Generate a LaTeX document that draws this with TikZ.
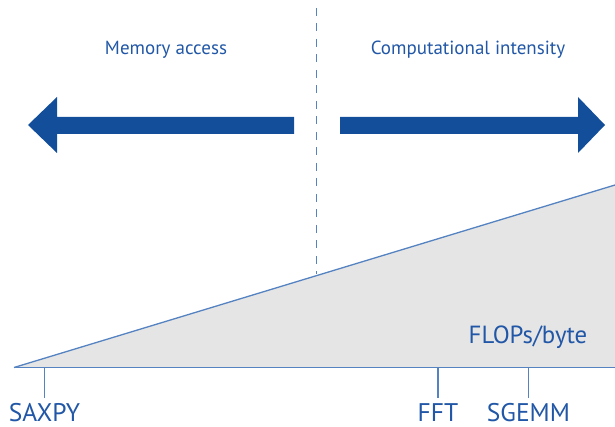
\documentclass[tikz,border=0pt]{standalone}
\usepackage{fontspec}
\setmainfont{PT Sans}
\definecolor{arrowblue}{HTML}{134E9B}
\definecolor{textblue}{HTML}{2157A6}
\definecolor{lineblue}{HTML}{5583C2}
\definecolor{fillgray}{HTML}{E5E5E5}
\begin{document}
\begin{tikzpicture}[x=1pt,y=-1pt,
  bigarrow/.style={fill=arrowblue,draw=none},
  axisline/.style={draw=lineblue,line width=1.5pt},
  tickline/.style={draw=lineblue,line width=1.2pt},
  toplabel/.style={text=textblue,font=\fontsize{19pt}{22pt}\selectfont,anchor=base,inner sep=0pt},
  botlabel/.style={text=textblue,font=\fontsize{25.5pt}{30pt}\selectfont,anchor=base,inner sep=0pt},
  unitlabel/.style={text=textblue,font=\fontsize{24.8pt}{28pt}\selectfont,anchor=base,inner sep=0pt}]
\useasboundingbox (0,0) rectangle (615,427);
% wedge
\coordinate (o) at (14,367.5);
\coordinate (tr) at (615,185);
\coordinate (br) at (615,367.5);
\fill[fillgray] (o) -- (tr) -- (br) -- cycle;
\draw[lineblue,line width=1.3pt] (o) -- (tr);
% dashed divider
\coordinate (dtop) at (316.5,8);
\coordinate (dbot) at (316.5,274);
\draw[lineblue,line width=1.7pt,dash pattern=on 8pt off 7.5pt] (dtop) -- (dbot);
% arrows
\fill[bigarrow] (28,125) -- (57,97) -- (57,117) -- (294,117) -- (294,134) -- (57,134) -- (57,153) -- cycle;
\fill[bigarrow] (605,125) -- (578,97) -- (578,117) -- (340,117) -- (340,134) -- (578,134) -- (578,153) -- cycle;
% axis
\draw[axisline] (o) -- (br);
\coordinate (t1) at (44.5,367.5);
\coordinate (t2) at (438,367.5);
\coordinate (t3) at (528.5,367.5);
\coordinate (b1) at (44.5,398);
\coordinate (b2) at (438,398);
\coordinate (b3) at (528.5,398);
\draw[tickline] (t1) -- (b1);
\draw[tickline] (t2) -- (b2);
\draw[tickline] (t3) -- (b3);
% labels
\node[toplabel] (mem) at (166,54.3) {Memory access};
\node[toplabel] (comp) at (468,54.3) {Computational intensity};
\node[unitlabel] (flops) at (528,343.3) {FLOPs/byte};
\node[botlabel] (saxpy) at (44.5,421) {SAXPY};
\node[botlabel] (fft) at (438,421) {FFT};
\node[botlabel] (sgemm) at (528.5,421) {SGEMM};
\end{tikzpicture}
\end{document}
